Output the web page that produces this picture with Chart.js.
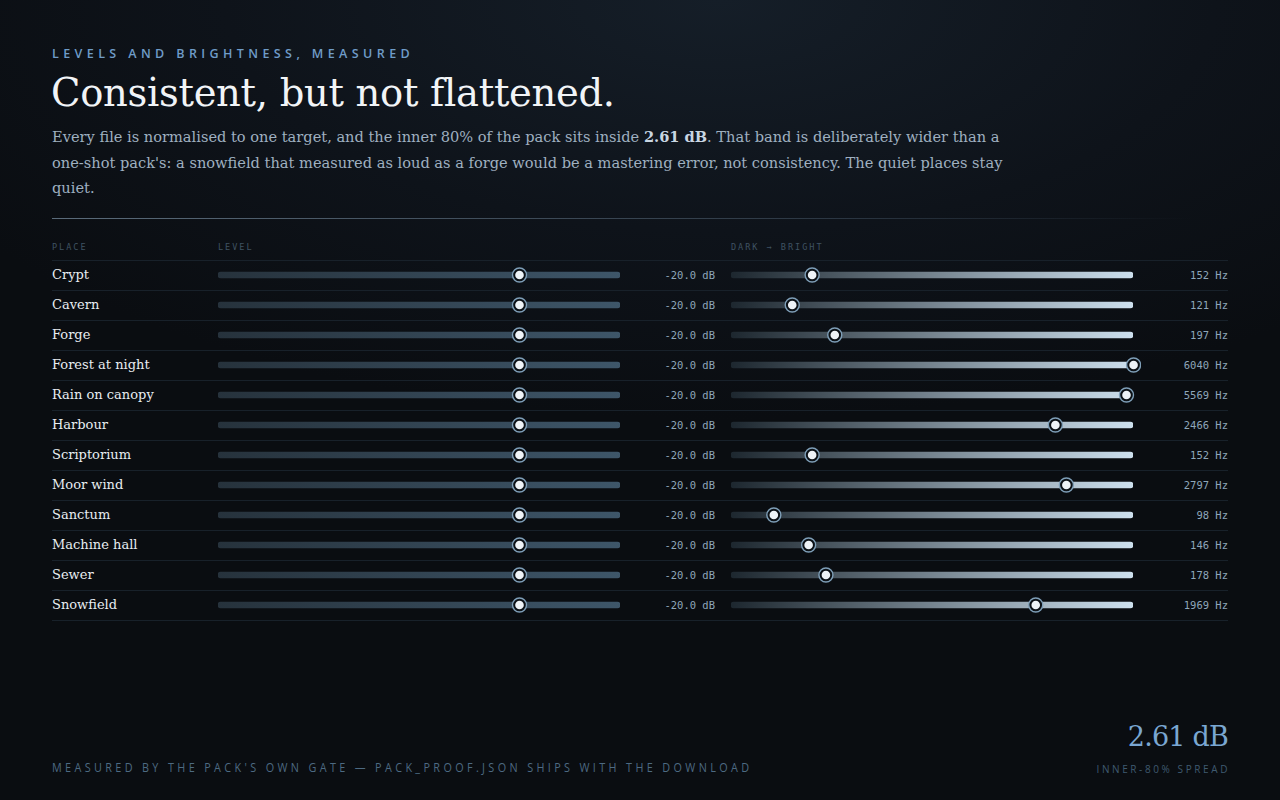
<!DOCTYPE html>
<html>
<head>
<meta charset="utf-8">
<script src="https://cdn.jsdelivr.net/npm/chart.js@4"></script>
<style>
  html, body { margin: 0; padding: 0; }
  body {
    width: 1280px; height: 800px; overflow: hidden; position: relative;
    background: radial-gradient(ellipse 900px 420px at 720px 0px, #151e28 0%, #0e131a 55%, #0a0d11 100%);
    background-color: #0a0d11;
    font-family: "DejaVu Serif", Georgia, serif;
  }
  .eyebrow {
    position: absolute; left: 52px; top: 45px;
    font-family: "Open Sans", sans-serif; font-weight: 600; font-size: 12.5px;
    letter-spacing: 4.4px; color: #6f9cc8;
  }
  h1 {
    position: absolute; left: 51px; top: 70px; margin: 0;
    font-weight: normal; font-size: 38.5px; color: #f1f4f7; letter-spacing: -0.3px;
    white-space: nowrap;
  }
  .lede {
    position: absolute; left: 52px; top: 124px; margin: 0;
    font-size: 14.6px; line-height: 25.5px; color: #9fb0c0; white-space: nowrap;
  }
  .lede b { color: #c9d6e2; }
  .rule {
    position: absolute; left: 52px; top: 218px; width: 1140px; height: 1px;
    background: linear-gradient(to right, #5a6b7a, #2a3541 70%, rgba(40,52,64,0));
  }
  .colhead {
    position: absolute; top: 242px;
    font-family: "DejaVu Sans Mono", monospace; font-size: 8.5px;
    letter-spacing: 2px; color: #3f5262;
  }
  .row {
    position: absolute; left: 52px; width: 1176px; height: 30px;
    border-top: 1px solid #18212a; box-sizing: border-box;
  }
  .place {
    position: absolute; left: 52px; font-size: 13px; color: #e8edf2;
    line-height: 30px; white-space: nowrap;
  }
  .val {
    position: absolute; font-family: "DejaVu Sans Mono", monospace; font-size: 10.5px;
    color: #8ea6ba; line-height: 30px; text-align: right; width: 90px;
  }
  .chartbox { position: absolute; top: 260px; height: 360px; }
  .foot {
    position: absolute; left: 52px; top: 759px;
    font-family: "Open Sans", sans-serif; font-size: 12px; letter-spacing: 3.75px;
    color: #4d6a82; transform: scaleX(0.9); transform-origin: left;
    white-space: nowrap;
  }
  .big {
    position: absolute; right: 52px; top: 721px; font-size: 27px; color: #7aa7d2;
    letter-spacing: -0.8px;
  }
  .bigsub {
    position: absolute; right: 50px; top: 762px; font-family: "Open Sans", sans-serif;
    font-size: 10px; letter-spacing: 2.6px; color: #3f5a70;
  }
</style>
</head>
<body>
<div class="eyebrow">LEVELS AND BRIGHTNESS, MEASURED</div>
<h1>Consistent, but not flattened.</h1>
<p class="lede">Every file is normalised to one target, and the inner 80% of the pack sits inside <b>2.61 dB</b>. That band is deliberately wider than a<br>one-shot pack's: a snowfield that measured as loud as a forge would be a mastering error, not consistency. The quiet places stay<br>quiet.</p>
<div class="rule"></div>
<div class="colhead" style="left:52px">PLACE</div>
<div class="colhead" style="left:218px">LEVEL</div>
<div class="colhead" style="left:731px">DARK → BRIGHT</div>
<div id="rows"></div>
<div class="chartbox" style="left:210px;width:418px"><canvas id="levelChart"></canvas></div>
<div class="chartbox" style="left:723px;width:418px"><canvas id="brightChart"></canvas></div>
<div class="foot">MEASURED BY THE PACK'S OWN GATE — PACK_PROOF.JSON SHIPS WITH THE DOWNLOAD</div>
<div class="big">2.61 dB</div>
<div class="bigsub">INNER-80% SPREAD</div>
<script>
const places = ['Crypt','Cavern','Forge','Forest at night','Rain on canopy','Harbour','Scriptorium','Moor wind','Sanctum','Machine hall','Sewer','Snowfield'];
const levelDb = [-20.0,-20.0,-20.0,-20.0,-20.0,-20.0,-20.0,-20.0,-20.0,-20.0,-20.0,-20.0];
const brightHz = [152,121,197,6040,5569,2466,152,2797,98,146,178,1969];
const levelRange = [-32, -16];
const brightRange = [60, 6000];

// rows: lines, names, readouts
const rowsEl = document.getElementById('rows');
places.forEach((p, i) => {
  const top = 260 + i * 30;
  rowsEl.insertAdjacentHTML('beforeend',
    '<div class="row" style="top:' + top + 'px"></div>' +
    '<div class="place" style="top:' + top + 'px">' + p + '</div>' +
    '<div class="val" style="top:' + top + 'px;left:625px">' + levelDb[i].toFixed(1) + ' dB</div>' +
    '<div class="val" style="top:' + top + 'px;left:1138px">' + brightHz[i] + ' Hz</div>');
});
rowsEl.insertAdjacentHTML('beforeend', '<div class="row" style="top:620px;height:1px"></div>');

function trackGradient(from, to) {
  return (ctx) => {
    const area = ctx.chart.chartArea;
    if (!area) return from;
    const g = ctx.chart.ctx.createLinearGradient(area.left, 0, area.right, 0);
    g.addColorStop(0, from);
    g.addColorStop(1, to);
    return g;
  };
}

function drawSlider(id, values, range, scaleType, fromCol, toCol) {
  new Chart(document.getElementById(id), {
    type: 'bar',
    data: {
      labels: places,
      datasets: [
        {
          type: 'scatter',
          data: values.map((v, i) => ({ x: v, y: places[i] })),
          pointRadius: 4.3,
          pointBackgroundColor: '#eef3f7',
          pointBorderWidth: 0,
          clip: false,
          order: 0
        },
        {
          type: 'scatter',
          data: values.map((v, i) => ({ x: v, y: places[i] })),
          pointRadius: 7,
          pointBackgroundColor: '#0b1015',
          pointBorderColor: '#7f9fb8',
          pointBorderWidth: 1.4,
          clip: false,
          order: 1
        },
        {
          data: places.map(() => range),
          backgroundColor: trackGradient(fromCol, toCol),
          barThickness: 6,
          borderRadius: 3,
          borderSkipped: false,
          order: 2
        }
      ]
    },
    options: {
      indexAxis: 'y',
      responsive: true,
      maintainAspectRatio: false,
      animation: false,
      layout: { autoPadding: false, padding: { left: 8, right: 8, top: 0, bottom: 0 } },
      plugins: { legend: { display: false }, tooltip: { enabled: false } },
      scales: {
        x: { type: scaleType, min: range[0], max: range[1], display: false },
        y: { type: 'category', display: false, offset: true, grid: { display: false } }
      }
    }
  });
}

drawSlider('levelChart', levelDb, levelRange, 'linear', '#26323c', '#3e5669');
drawSlider('brightChart', brightHz, brightRange, 'logarithmic', '#1d272f', '#cde0ee');
</script>
</body>
</html>
